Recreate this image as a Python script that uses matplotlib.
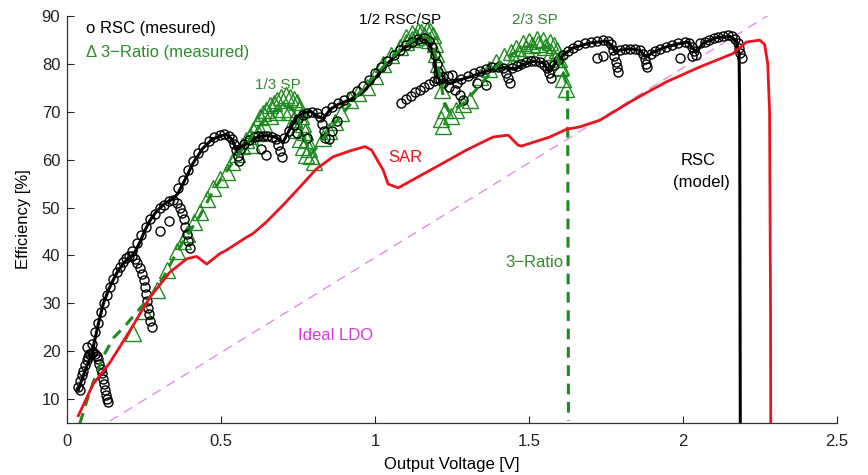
import numpy as np
import matplotlib
matplotlib.use("Agg")
import matplotlib.pyplot as plt

plt.rcParams['font.family'] = ['Liberation Sans', 'DejaVu Sans']
plt.rcParams['font.size'] = 12

# ideal LDO (dashed magenta)
ldo_v = [0.0, 2.3]
ldo_eff = [0.0, 91.0]

# SAR model (red)
sar_v = [0.036, 0.084, 0.139, 0.204, 0.269, 0.333, 0.388, 0.42, 0.453, 0.496, 0.517,
         0.582, 0.604, 0.647, 0.701, 0.756, 0.81, 0.864, 0.918, 0.967, 0.988, 1.026,
         1.042, 1.075, 1.188, 1.297, 1.383, 1.432, 1.464, 1.475, 1.567, 1.621, 1.664,
         1.73, 1.838, 1.946, 2.054, 2.162, 2.206, 2.249, 2.265, 2.275, 2.281, 2.284, 2.285]
sar_eff = [6.6, 13.2, 17.7, 24.4, 31.3, 36.5, 39.3, 39.8, 38.2, 40.4, 41.1,
           43.8, 44.6, 47.0, 50.5, 54.3, 58.1, 60.6, 61.8, 62.7, 62.0, 57.8,
           54.9, 54.1, 58.1, 62.0, 64.7, 65.1, 63.0, 62.8, 64.7, 66.3, 66.8,
           68.2, 72.4, 76.2, 79.3, 82.1, 84.5, 84.9, 84.0, 80.0, 70.0, 30.0, 0.0]

# RSC model (black line)
rsc_model_v = [0.036, 0.05, 0.065, 0.08, 0.1, 0.117, 0.135, 0.15, 0.165, 0.182, 0.195, 0.209,
               0.222, 0.236, 0.252, 0.269, 0.285, 0.301, 0.32, 0.344, 0.36, 0.38, 0.409, 0.44,
               0.47, 0.5, 0.518, 0.535, 0.55, 0.565, 0.59, 0.62, 0.65, 0.68, 0.70, 0.72, 0.745,
               0.77, 0.79, 0.815, 0.83, 0.855, 0.88, 0.92, 0.96, 1.0, 1.04, 1.08, 1.12, 1.15,
               1.17, 1.19, 1.2, 1.21, 1.24, 1.27, 1.31, 1.35, 1.39, 1.43, 1.45, 1.48, 1.513,
               1.545, 1.565, 1.585, 1.61, 1.643, 1.697, 1.751, 1.768, 1.78, 1.795, 1.827, 1.86,
               1.876, 1.89, 1.903, 1.946, 1.989, 2.016, 2.032, 2.045, 2.065, 2.108, 2.152,
               2.173, 2.182, 2.184, 2.186]
rsc_model_eff = [12.0, 14.6, 17.2, 19.6, 25.5, 29.9, 33.0, 35.0, 36.8, 38.3, 39.3, 39.8,
                 41.0, 42.8, 45.2, 47.3, 48.8, 49.9, 51.0, 51.8, 53.0, 55.5, 59.3, 62.3,
                 64.2, 65.0, 65.2, 64.2, 62.0, 62.5, 63.8, 64.8, 65.0, 64.6, 63.5, 66.0, 68.8,
                 69.8, 70.0, 69.0, 68.5, 70.5, 71.5, 72.5, 74.0, 77.0, 80.0, 82.5, 84.5, 85.5,
                 85.0, 82.0, 78.0, 76.5, 75.8, 76.5, 77.3, 78.2, 79.0, 79.2, 78.8, 79.8, 80.5,
                 80.2, 78.3, 80.0, 81.8, 83.3, 84.3, 84.7, 83.8, 82.3, 82.8, 83.1, 82.8,
                 81.5, 81.8, 82.4, 83.5, 84.2, 84.5, 83.1, 82.5, 84.3, 85.4, 85.7,
                 84.8, 82.0, 70.0, 0.0]

# 3-Ratio model (green dashed)
ratio_model_v = [0.041, 0.06, 0.084, 0.117, 0.15, 0.19, 0.23, 0.27, 0.31, 0.35, 0.39, 0.43,
                 0.47, 0.51, 0.55, 0.59, 0.63, 0.67, 0.70, 0.73, 0.75, 0.77, 0.79, 0.81, 0.85,
                 0.9, 0.95, 1.0, 1.05, 1.1, 1.14, 1.17, 1.19, 1.205, 1.215, 1.225, 1.24, 1.28,
                 1.32, 1.36, 1.4, 1.44, 1.48, 1.52, 1.56, 1.59, 1.61, 1.625, 1.628]
ratio_model_eff = [5.0, 9.0, 13.5, 19.0, 22.8, 25.5, 28.5, 31.5, 35.2, 40.0, 44.3, 48.2,
                   53.0, 57.0, 60.5, 64.0, 67.5, 70.0, 71.0, 70.8, 68.5, 64.5, 61.0, 62.5, 66.0,
                   70.0, 74.0, 77.5, 81.0, 84.0, 85.5, 85.5, 83.0, 79.5, 75.5, 71.5, 70.0, 71.3,
                   74.0, 77.0, 79.8, 81.8, 83.3, 84.0, 83.5, 81.5, 78.0, 75.0, 5.5]

# RSC measured (circles)
rsc_meas_v = [
    0.036, 0.042, 0.047, 0.052, 0.058, 0.063, 0.068, 0.074, 0.079, 0.084, 0.09, 0.095, 0.1,
    0.104, 0.108, 0.112, 0.116, 0.119, 0.122, 0.126, 0.13, 0.133, 0.063, 0.04,
    0.07, 0.08, 0.09, 0.1, 0.11, 0.12, 0.13, 0.14, 0.15, 0.16, 0.17, 0.18, 0.19, 0.2, 0.21,
    0.22, 0.228, 0.236, 0.242, 0.248, 0.252, 0.256, 0.26, 0.263, 0.266, 0.27, 0.274,
    0.21, 0.225, 0.24, 0.255, 0.27, 0.285, 0.3, 0.315, 0.33, 0.344, 0.355, 0.365, 0.372,
    0.378, 0.383, 0.388, 0.393, 0.398, 0.30, 0.33,
    0.36, 0.377, 0.393, 0.409, 0.425, 0.442, 0.46, 0.478, 0.495, 0.51, 0.525, 0.535, 0.543,
    0.549, 0.553, 0.557,
    0.56, 0.575, 0.59, 0.605, 0.62, 0.635, 0.65, 0.665, 0.678, 0.686, 0.692, 0.698, 0.63, 0.645,
    0.705, 0.72, 0.735, 0.75, 0.765, 0.78, 0.795, 0.81, 0.82, 0.828, 0.833, 0.838, 0.745, 0.78,
    0.84, 0.86, 0.88, 0.9, 0.92, 0.94, 0.96, 0.98, 1.0, 1.02, 1.04, 1.06, 1.08, 1.1, 1.12,
    1.14, 1.16, 1.175, 1.185, 1.195, 1.2, 1.205, 1.21, 0.85, 0.86, 0.875,
    1.22, 1.24, 1.26, 1.275, 1.285,
    1.085, 1.1, 1.115, 1.13, 1.145, 1.16, 1.175, 1.19, 1.205, 1.22, 1.235, 1.25,
    1.265, 1.28, 1.3, 1.32, 1.34, 1.36, 1.38, 1.4, 1.415, 1.425, 1.432, 1.437, 1.33, 1.36,
    1.445, 1.46, 1.475, 1.49, 1.505, 1.52, 1.535, 1.548, 1.558, 1.566, 1.572,
    1.58, 1.595, 1.61, 1.625, 1.643, 1.66, 1.68, 1.7, 1.72, 1.74, 1.755, 1.765, 1.772, 1.777,
    1.782, 1.787, 1.79, 1.72, 1.74,
    1.795, 1.81, 1.827, 1.845, 1.86, 1.87, 1.876, 1.88, 1.884,
    1.895, 1.91, 1.925, 1.946, 1.965, 1.985, 2.005, 2.02, 2.03, 2.037, 2.043, 1.99, 2.03,
    2.055, 2.07, 2.085, 2.1, 2.115, 2.13, 2.145, 2.16, 2.17, 2.177, 2.182, 2.186, 2.19]
rsc_meas_eff = [
    12.5, 13.8, 15.0, 16.0, 17.2, 18.2, 18.8, 19.4, 19.7, 19.8, 19.5, 19.0, 18.4,
    17.4, 16.4, 15.4, 14.3, 13.2, 12.0, 11.0, 10.0, 9.4, 20.9, 12.0,
    19.5, 21.5, 24.0, 26.0, 28.3, 30.0, 31.8, 33.5, 35.0, 36.5, 37.6, 38.6, 39.4, 39.8, 39.8,
    39.3, 38.5, 37.4, 36.2, 34.8, 33.4, 32.0, 30.5, 29.0, 27.8, 26.4, 25.0,
    41.0, 42.5, 44.3, 46.0, 47.5, 48.7, 49.8, 50.6, 51.3, 51.6, 51.0, 50.0, 48.8,
    47.5, 46.0, 44.5, 43.0, 41.5, 45.0, 47.2,
    54.0, 55.7, 57.8, 59.8, 61.3, 62.6, 63.8, 64.6, 65.1, 65.3, 65.0, 64.3, 63.2,
    62.0, 60.8, 59.8,
    62.2, 63.2, 64.0, 64.6, 64.9, 65.0, 65.0, 64.8, 64.2, 63.0, 61.8, 60.5, 62.3, 61.0,
    64.5, 66.0, 67.3, 68.5, 69.3, 69.8, 70.0, 69.7, 68.9, 67.5, 66.0, 64.5, 65.5, 64.5,
    70.2, 71.0, 71.8, 72.5, 73.3, 74.3, 75.3, 76.6, 78.0, 79.4, 80.6, 81.8, 82.8, 83.8, 84.6,
    85.2, 85.4, 84.8, 83.5, 81.8, 80.0, 78.3, 76.8, 64.2, 66.0, 68.0,
    76.0, 75.2, 74.5, 73.5, 72.4,
    71.7, 72.6, 73.3, 74.0, 74.6, 75.2, 75.8, 76.3, 76.8, 77.2, 77.5, 77.7,
    76.0, 76.8, 77.4, 78.0, 78.5, 78.9, 79.2, 79.3, 79.0, 78.0, 77.0, 76.0, 76.0, 75.5,
    79.0, 79.5, 80.0, 80.3, 80.5, 80.5, 80.3, 79.8, 79.0, 78.0, 77.0,
    79.8, 80.8, 81.8, 82.6, 83.3, 83.8, 84.3, 84.6, 84.8, 84.9, 84.8, 84.0, 82.8, 81.6,
    80.4, 79.2, 78.3, 81.2, 81.5,
    82.8, 83.0, 83.1, 83.0, 82.8, 82.0, 81.0, 80.0, 79.2,
    82.0, 82.6, 83.0, 83.5, 83.9, 84.2, 84.5, 84.4, 83.5, 82.6, 81.8, 81.2, 81.5,
    84.2, 84.6, 85.0, 85.4, 85.6, 85.8, 85.9, 85.7, 85.1, 84.2, 83.2, 82.2, 81.2]

# 3-Ratio measured (triangles)
ratio_meas_v = [
    0.215, 0.25, 0.29, 0.323, 0.355, 0.375, 0.388, 0.41, 0.431, 0.453, 0.474, 0.495, 0.518,
    0.535, 0.55, 0.567, 0.582, 0.595, 0.604, 0.615, 0.626, 0.637, 0.647, 0.66, 0.67, 0.68,
    0.695, 0.712, 0.725, 0.735, 0.745, 0.752, 0.758, 0.766, 0.772, 0.777, 0.785, 0.792, 0.8,
    0.6, 0.62, 0.64, 0.66, 0.68, 0.70, 0.72, 0.735, 0.745, 0.755, 0.766, 0.775,
    0.83, 0.85, 0.87, 0.89, 0.918, 0.945, 0.972, 1.0, 1.026, 1.05, 1.08, 1.1, 1.12, 1.134,
    1.15, 1.167, 1.178, 1.188, 1.195, 1.199, 1.205, 1.21, 1.216,
    1.1, 1.12, 1.14, 1.16, 1.175,
    1.215, 1.221, 1.226, 1.245, 1.264, 1.285, 1.307,
    1.34, 1.37, 1.394, 1.42, 1.44, 1.459, 1.48, 1.5, 1.524, 1.545, 1.567, 1.58, 1.589, 1.598,
    1.605, 1.61, 1.621,
    1.45, 1.47, 1.49, 1.51, 1.53, 1.55, 1.57, 1.585, 1.6]
ratio_meas_eff = [
    23.8, 28.5, 32.7, 36.9, 41.0, 43.0, 44.5, 47.0, 49.0, 51.8, 54.0, 56.0, 57.5,
    59.5, 61.2, 62.8, 64.0, 65.0, 66.1, 67.5, 68.9, 69.7, 70.3, 71.3, 71.8, 72.4,
    73.0, 73.4, 73.0, 72.6, 72.0, 70.5, 69.0, 67.5, 65.8, 64.0, 62.3, 60.8, 59.5,
    63.0, 65.5, 67.5, 69.0, 70.0, 70.5, 70.0, 68.5, 66.1, 64.3, 62.6, 61.0,
    64.5, 66.0, 67.8, 69.8, 72.4, 73.8, 75.1, 77.5, 80.0, 81.8, 83.5, 84.5, 85.2, 85.6,
    86.5, 87.0, 86.8, 86.0, 84.0, 82.1, 80.0, 77.9, 74.4,
    85.5, 86.3, 86.8, 86.0, 85.0,
    68.5, 67.0, 70.3, 69.0, 70.3, 71.5, 72.4,
    77.2, 78.8, 80.4, 81.5, 82.4, 83.2, 84.2, 84.8, 85.2, 85.0, 84.5, 83.8, 82.8, 81.0,
    79.3, 76.9, 74.8,
    81.0, 82.3, 83.3, 83.9, 84.0, 83.5, 82.5, 81.0, 79.0]

green = '#1f8a1f'
green_txt = '#2e8b2e'
red = '#e8141e'
magenta = '#d838d8'

fig = plt.figure(figsize=(8.68, 4.75), dpi=100)
ax = fig.add_axes([0.0775, 0.1088, 0.8868, 0.8582])

ax.plot(ldo_v, ldo_eff, '--', color='#e090e0', lw=1.0, dashes=(7, 5))
ax.plot(ratio_meas_v, ratio_meas_eff, '^', ms=11, mfc='none', mec=green, mew=1.0)
ax.plot(rsc_meas_v, rsc_meas_eff, 'o', ms=6.5, mfc='none', mec='black', mew=1.0)
ax.plot(rsc_model_v, rsc_model_eff, '-', color='black', lw=2.2)
ax.plot(ratio_model_v, ratio_model_eff, '--', color=green, lw=2.2, dashes=(3.5, 2.5))
ax.plot(sar_v, sar_eff, '-', color=red, lw=2.0)

ax.set_xlim(0, 2.5)
ax.set_ylim(5, 90)
ax.set_xticks([0, 0.5, 1, 1.5, 2, 2.5])
ax.set_xticklabels(['0', '0.5', '1', '1.5', '2', '2.5'])
ax.set_yticks(range(10, 91, 10))
ax.tick_params(direction='in', length=5, width=0.8, labelsize=12, colors='#222222')
ax.tick_params(axis='x', pad=7.5)
ax.tick_params(axis='y', pad=5)
ax.spines['top'].set_visible(False)
ax.spines['right'].set_visible(False)
for s in ['left', 'bottom']:
    ax.spines[s].set_color('#333333')
    ax.spines[s].set_linewidth(0.9)

ax.set_xlabel('Output Voltage [V]', fontsize=12, labelpad=6)
ax.set_ylabel('Efficiency [%]', fontsize=12, labelpad=8)

ax.text(0.06, 87.4, 'o RSC (mesured)', color='black', fontsize=12, va='center')
ax.text(0.06, 82.4, '\u0394 3\u2212Ratio (measured)', color=green_txt, fontsize=12, va='center')
ax.text(0.685, 75.5, '1/3 SP', color=green_txt, fontsize=11, ha='center', va='center')
ax.text(1.08, 89.0, '1/2 RSC/SP', color='black', fontsize=11, ha='center', va='center')
ax.text(1.52, 89.0, '2/3 SP', color=green_txt, fontsize=11, ha='center', va='center')
ax.text(1.097, 60.4, 'SAR', color=red, fontsize=12, ha='center', va='center')
ax.text(1.61, 38.5, '3\u2212Ratio', color=green_txt, fontsize=12, ha='right', va='center')
ax.text(0.75, 23.3, 'Ideal LDO', color=magenta, fontsize=12, ha='left', va='center')
ax.text(2.05, 59.8, 'RSC', color='black', fontsize=12, ha='center', va='center')
ax.text(2.06, 55.2, '(model)', color='black', fontsize=12, ha='center', va='center')

fig.savefig('out.png', dpi=100)
